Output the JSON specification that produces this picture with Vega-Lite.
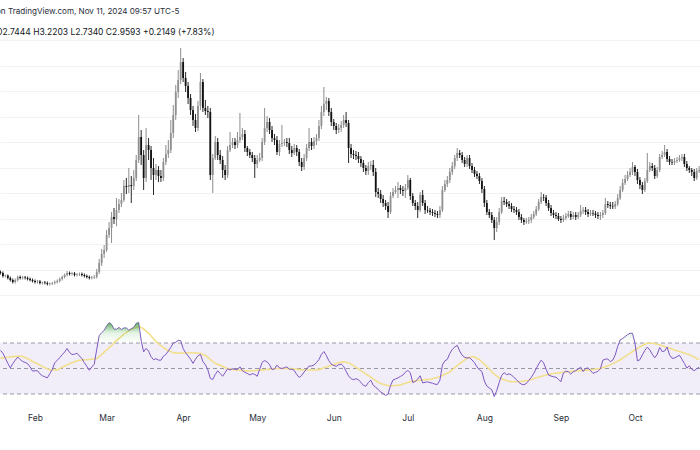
{
"$schema":"https://vega.github.io/schema/vega-lite/v6.json",
"width":700,"height":450,"autosize":"none","padding":0,"background":"white",
"config":{"view":{"stroke":null},"font":"Inter"},
"title":{"text":"on TradingView.com, Nov 11, 2024 09:57 UTC-5","subtitle":"O2.7444  H3.2203  L2.7340  C2.9593  +0.2149 (+7.83%)","orient":"top","anchor":"start","frame":"group","offset":0,"dx":-4,"dy":40,"font":"Inter","fontSize":8.1,"fontWeight":"normal","color":"#2a2e39","subtitleFont":"Inter","subtitleFontSize":8.5,"subtitleColor":"#131722","subtitlePadding":11,"baseline":"middle"},
"datasets":{
"levels":[{"v":70},{"v":50},{"v":30}],
"band":[{"lo":30,"hi":70}],
"p":[
{"d":"2024-01-18","o":0.451,"h":0.480,"l":0.402,"c":0.431,"r":64.2,"m":58.0},
{"d":"2024-01-19","o":0.431,"h":0.461,"l":0.343,"c":0.373,"r":62,"m":58.3},
{"d":"2024-01-20","o":0.373,"h":0.402,"l":0.343,"c":0.382,"r":58,"m":58.5},
{"d":"2024-01-21","o":0.382,"h":0.402,"l":0.304,"c":0.333,"r":54,"m":58.8},
{"d":"2024-01-22","o":0.333,"h":0.363,"l":0.265,"c":0.294,"r":50.5,"m":59.0},
{"d":"2024-01-23","o":0.294,"h":0.324,"l":0.225,"c":0.255,"r":53.8,"m":59.3},
{"d":"2024-01-24","o":0.255,"h":0.324,"l":0.225,"c":0.294,"r":56.5,"m":59.5},
{"d":"2024-01-25","o":0.294,"h":0.382,"l":0.265,"c":0.353,"r":59,"m":59.6},
{"d":"2024-01-26","o":0.353,"h":0.382,"l":0.304,"c":0.333,"r":57,"m":59.8},
{"d":"2024-01-27","o":0.333,"h":0.373,"l":0.304,"c":0.343,"r":55.5,"m":59.4},
{"d":"2024-01-28","o":0.343,"h":0.373,"l":0.304,"c":0.333,"r":54.8,"m":58.5},
{"d":"2024-01-29","o":0.333,"h":0.363,"l":0.284,"c":0.314,"r":53.8,"m":57.7},
{"d":"2024-01-30","o":0.314,"h":0.343,"l":0.265,"c":0.294,"r":51.3,"m":56.7},
{"d":"2024-01-31","o":0.294,"h":0.324,"l":0.245,"c":0.275,"r":48,"m":55.5},
{"d":"2024-02-01","o":0.275,"h":0.304,"l":0.225,"c":0.255,"r":48.2,"m":54.5},
{"d":"2024-02-02","o":0.255,"h":0.294,"l":0.225,"c":0.265,"r":48.3,"m":53.6},
{"d":"2024-02-03","o":0.265,"h":0.294,"l":0.206,"c":0.235,"r":45.8,"m":52.6},
{"d":"2024-02-04","o":0.235,"h":0.265,"l":0.206,"c":0.245,"r":44.3,"m":51.6},
{"d":"2024-02-05","o":0.245,"h":0.275,"l":0.206,"c":0.235,"r":43.5,"m":50.6},
{"d":"2024-02-06","o":0.235,"h":0.265,"l":0.186,"c":0.216,"r":42.6,"m":49.8},
{"d":"2024-02-07","o":0.216,"h":0.245,"l":0.186,"c":0.225,"r":46,"m":48.9},
{"d":"2024-02-08","o":0.225,"h":0.255,"l":0.196,"c":0.235,"r":49.2,"m":48.8},
{"d":"2024-02-09","o":0.235,"h":0.284,"l":0.206,"c":0.255,"r":54.5,"m":48.8},
{"d":"2024-02-10","o":0.255,"h":0.304,"l":0.225,"c":0.275,"r":56.4,"m":48.9},
{"d":"2024-02-11","o":0.275,"h":0.343,"l":0.245,"c":0.314,"r":58.5,"m":50.0},
{"d":"2024-02-12","o":0.314,"h":0.382,"l":0.284,"c":0.353,"r":60.8,"m":51.0},
{"d":"2024-02-13","o":0.353,"h":0.422,"l":0.324,"c":0.392,"r":62.9,"m":52.0},
{"d":"2024-02-14","o":0.392,"h":0.471,"l":0.363,"c":0.431,"r":65.7,"m":52.9},
{"d":"2024-02-15","o":0.431,"h":0.461,"l":0.382,"c":0.412,"r":62.5,"m":53.8},
{"d":"2024-02-16","o":0.412,"h":0.451,"l":0.382,"c":0.422,"r":61,"m":54.5},
{"d":"2024-02-17","o":0.422,"h":0.451,"l":0.363,"c":0.392,"r":61.2,"m":55.2},
{"d":"2024-02-18","o":0.392,"h":0.431,"l":0.363,"c":0.402,"r":62,"m":55.9},
{"d":"2024-02-19","o":0.402,"h":0.441,"l":0.373,"c":0.412,"r":59.8,"m":56.5},
{"d":"2024-02-20","o":0.412,"h":0.441,"l":0.363,"c":0.392,"r":57.7,"m":56.7},
{"d":"2024-02-21","o":0.392,"h":0.422,"l":0.343,"c":0.373,"r":54.5,"m":56.8},
{"d":"2024-02-22","o":0.373,"h":0.402,"l":0.324,"c":0.353,"r":51.7,"m":56.9},
{"d":"2024-02-23","o":0.353,"h":0.382,"l":0.304,"c":0.333,"r":48.6,"m":57.0},
{"d":"2024-02-24","o":0.333,"h":0.373,"l":0.304,"c":0.343,"r":51.2,"m":57.3},
{"d":"2024-02-25","o":0.343,"h":0.392,"l":0.314,"c":0.353,"r":53.4,"m":57.6},
{"d":"2024-02-26","o":0.353,"h":0.510,"l":0.324,"c":0.451,"r":65,"m":57.9},
{"d":"2024-02-27","o":0.451,"h":0.706,"l":0.412,"c":0.627,"r":75.7,"m":59.3},
{"d":"2024-02-28","o":0.627,"h":0.902,"l":0.569,"c":0.804,"r":78.1,"m":61.1},
{"d":"2024-02-29","o":0.804,"h":0.980,"l":0.725,"c":0.882,"r":79.9,"m":62.8},
{"d":"2024-03-01","o":0.882,"h":1.275,"l":0.843,"c":1.176,"r":83.4,"m":64.6},
{"d":"2024-03-02","o":1.176,"h":1.431,"l":1.118,"c":1.314,"r":85.9,"m":66.4},
{"d":"2024-03-03","o":1.314,"h":1.627,"l":1.020,"c":1.529,"r":84.7,"m":68.0},
{"d":"2024-03-04","o":1.529,"h":1.706,"l":1.392,"c":1.490,"r":80.9,"m":70.1},
{"d":"2024-03-05","o":1.490,"h":1.902,"l":1.353,"c":1.667,"r":80.8,"m":72.0},
{"d":"2024-03-06","o":1.667,"h":1.882,"l":1.608,"c":1.784,"r":82.2,"m":73.4},
{"d":"2024-03-07","o":1.784,"h":2.000,"l":1.725,"c":1.863,"r":80.6,"m":75.1},
{"d":"2024-03-08","o":1.863,"h":2.255,"l":1.824,"c":2.137,"r":81.8,"m":76.9},
{"d":"2024-03-09","o":2.137,"h":2.294,"l":1.980,"c":2.118,"r":81.8,"m":78.2},
{"d":"2024-03-10","o":2.118,"h":2.490,"l":2.000,"c":2.157,"r":80,"m":79.5},
{"d":"2024-03-11","o":2.157,"h":2.333,"l":1.804,"c":2.137,"r":81.2,"m":80.7},
{"d":"2024-03-12","o":2.137,"h":2.451,"l":2.059,"c":2.294,"r":82.3,"m":81.6},
{"d":"2024-03-13","o":2.294,"h":2.745,"l":2.235,"c":2.647,"r":85.4,"m":82.1},
{"d":"2024-03-14","o":2.647,"h":3.529,"l":2.588,"c":3.098,"r":86,"m":82.6},
{"d":"2024-03-15","o":3.098,"h":3.235,"l":2.549,"c":2.745,"r":72,"m":82.1},
{"d":"2024-03-16","o":2.745,"h":2.843,"l":2.059,"c":2.294,"r":63,"m":80.8},
{"d":"2024-03-17","o":2.294,"h":3.275,"l":2.216,"c":2.941,"r":65.8,"m":79.4},
{"d":"2024-03-18","o":2.941,"h":3.078,"l":2.647,"c":2.843,"r":63.6,"m":77.7},
{"d":"2024-03-19","o":2.843,"h":2.922,"l":2.255,"c":2.490,"r":59.3,"m":75.5},
{"d":"2024-03-20","o":2.490,"h":2.686,"l":1.961,"c":2.353,"r":56.9,"m":73.3},
{"d":"2024-03-21","o":2.353,"h":2.569,"l":2.255,"c":2.451,"r":57.7,"m":71.1},
{"d":"2024-03-22","o":2.451,"h":2.529,"l":2.216,"c":2.333,"r":56.6,"m":69.6},
{"d":"2024-03-23","o":2.333,"h":2.451,"l":2.216,"c":2.294,"r":56.5,"m":67.9},
{"d":"2024-03-24","o":2.294,"h":2.686,"l":2.235,"c":2.608,"r":59.6,"m":66.6},
{"d":"2024-03-25","o":2.608,"h":2.941,"l":2.549,"c":2.765,"r":61,"m":65.1},
{"d":"2024-03-26","o":2.765,"h":3.039,"l":2.686,"c":2.843,"r":63.7,"m":64.0},
{"d":"2024-03-27","o":2.843,"h":3.431,"l":2.784,"c":3.176,"r":66.6,"m":63.3},
{"d":"2024-03-28","o":3.176,"h":3.725,"l":3.078,"c":3.529,"r":69.9,"m":62.4},
{"d":"2024-03-29","o":3.529,"h":4.118,"l":3.431,"c":3.980,"r":70.6,"m":62.2},
{"d":"2024-03-30","o":3.980,"h":4.412,"l":3.863,"c":4.216,"r":72,"m":62.1},
{"d":"2024-03-31","o":4.216,"h":4.843,"l":4.137,"c":4.569,"r":71.9,"m":62.0},
{"d":"2024-04-01","o":4.569,"h":4.647,"l":4.176,"c":4.255,"r":65.6,"m":62.1},
{"d":"2024-04-02","o":4.255,"h":4.373,"l":3.980,"c":4.098,"r":62.4,"m":62.2},
{"d":"2024-04-03","o":4.098,"h":4.176,"l":3.745,"c":3.863,"r":59.9,"m":62.3},
{"d":"2024-04-04","o":3.863,"h":3.941,"l":3.529,"c":3.627,"r":57.3,"m":62.4},
{"d":"2024-04-05","o":3.627,"h":3.706,"l":3.314,"c":3.431,"r":54,"m":62.3},
{"d":"2024-04-06","o":3.431,"h":3.549,"l":3.196,"c":3.275,"r":57.3,"m":62.1},
{"d":"2024-04-07","o":3.275,"h":3.804,"l":3.216,"c":3.706,"r":60,"m":62.0},
{"d":"2024-04-08","o":3.706,"h":4.353,"l":3.627,"c":4.176,"r":61.1,"m":61.9},
{"d":"2024-04-09","o":4.176,"h":4.235,"l":3.588,"c":3.667,"r":55.5,"m":60.8},
{"d":"2024-04-10","o":3.667,"h":3.824,"l":3.529,"c":3.608,"r":53,"m":60.2},
{"d":"2024-04-11","o":3.608,"h":3.706,"l":3.471,"c":3.588,"r":49,"m":58.8},
{"d":"2024-04-12","o":3.588,"h":3.667,"l":2.255,"c":2.353,"r":42.2,"m":57.1},
{"d":"2024-04-13","o":2.353,"h":2.765,"l":2.000,"c":2.686,"r":41.4,"m":55.4},
{"d":"2024-04-14","o":2.686,"h":3.118,"l":2.647,"c":3.000,"r":45.3,"m":54.2},
{"d":"2024-04-15","o":3.000,"h":3.078,"l":2.647,"c":2.745,"r":48.2,"m":53.1},
{"d":"2024-04-16","o":2.745,"h":2.843,"l":2.569,"c":2.647,"r":46.1,"m":52.6},
{"d":"2024-04-17","o":2.647,"h":2.725,"l":2.294,"c":2.451,"r":43.9,"m":51.6},
{"d":"2024-04-18","o":2.451,"h":2.549,"l":2.255,"c":2.353,"r":46.8,"m":50.7},
{"d":"2024-04-19","o":2.353,"h":2.922,"l":2.294,"c":2.843,"r":49.8,"m":49.9},
{"d":"2024-04-20","o":2.843,"h":3.196,"l":2.804,"c":2.941,"r":48.8,"m":49.6},
{"d":"2024-04-21","o":2.941,"h":3.078,"l":2.882,"c":3.000,"r":49.8,"m":49.3},
{"d":"2024-04-22","o":3.000,"h":3.078,"l":2.863,"c":2.941,"r":49.4,"m":49.0},
{"d":"2024-04-23","o":2.941,"h":3.196,"l":2.882,"c":3.039,"r":49.2,"m":48.8},
{"d":"2024-04-24","o":3.039,"h":3.569,"l":2.980,"c":3.098,"r":51.3,"m":48.6},
{"d":"2024-04-25","o":3.098,"h":3.275,"l":3.039,"c":3.157,"r":48.3,"m":48.4},
{"d":"2024-04-26","o":3.157,"h":3.235,"l":2.804,"c":2.882,"r":47,"m":48.2},
{"d":"2024-04-27","o":2.882,"h":2.922,"l":2.725,"c":2.804,"r":46.1,"m":48.1},
{"d":"2024-04-28","o":2.804,"h":2.863,"l":2.686,"c":2.745,"r":45,"m":48.0},
{"d":"2024-04-29","o":2.745,"h":2.804,"l":2.608,"c":2.686,"r":45.9,"m":48.2},
{"d":"2024-04-30","o":2.686,"h":2.745,"l":2.294,"c":2.569,"r":45.4,"m":48.3},
{"d":"2024-05-01","o":2.569,"h":2.745,"l":2.490,"c":2.647,"r":43.9,"m":48.5},
{"d":"2024-05-02","o":2.647,"h":2.784,"l":2.608,"c":2.686,"r":49.4,"m":48.7},
{"d":"2024-05-03","o":2.686,"h":3.078,"l":2.627,"c":3.000,"r":54.8,"m":48.8},
{"d":"2024-05-04","o":3.000,"h":3.667,"l":2.941,"c":3.275,"r":56.2,"m":49.0},
{"d":"2024-05-05","o":3.275,"h":3.510,"l":3.196,"c":3.392,"r":55.2,"m":49.2},
{"d":"2024-05-06","o":3.392,"h":3.471,"l":3.157,"c":3.235,"r":53,"m":49.4},
{"d":"2024-05-07","o":3.235,"h":3.314,"l":3.000,"c":3.078,"r":49.2,"m":49.6},
{"d":"2024-05-08","o":3.078,"h":3.157,"l":2.941,"c":3.039,"r":49.6,"m":49.8},
{"d":"2024-05-09","o":3.039,"h":3.118,"l":2.745,"c":2.804,"r":52.7,"m":50.0},
{"d":"2024-05-10","o":2.804,"h":3.039,"l":2.725,"c":2.961,"r":50.5,"m":50.0},
{"d":"2024-05-11","o":2.961,"h":3.333,"l":2.902,"c":2.980,"r":50,"m":50.0},
{"d":"2024-05-12","o":2.980,"h":3.059,"l":2.922,"c":3.000,"r":50.6,"m":50.0},
{"d":"2024-05-13","o":3.000,"h":3.078,"l":2.902,"c":2.980,"r":51.3,"m":50.0},
{"d":"2024-05-14","o":2.980,"h":3.078,"l":2.765,"c":2.843,"r":49.4,"m":50.0},
{"d":"2024-05-15","o":2.843,"h":2.922,"l":2.706,"c":2.784,"r":49.4,"m":49.8},
{"d":"2024-05-16","o":2.784,"h":2.961,"l":2.745,"c":2.882,"r":48.4,"m":49.6},
{"d":"2024-05-17","o":2.882,"h":2.941,"l":2.725,"c":2.804,"r":45.3,"m":49.4},
{"d":"2024-05-18","o":2.804,"h":2.863,"l":2.529,"c":2.608,"r":43,"m":49.2},
{"d":"2024-05-19","o":2.608,"h":2.686,"l":2.431,"c":2.510,"r":44.5,"m":48.9},
{"d":"2024-05-20","o":2.510,"h":2.765,"l":2.451,"c":2.686,"r":47.3,"m":48.8},
{"d":"2024-05-21","o":2.686,"h":2.961,"l":2.627,"c":2.882,"r":49.6,"m":48.8},
{"d":"2024-05-22","o":2.882,"h":3.275,"l":2.824,"c":3.000,"r":51.9,"m":48.8},
{"d":"2024-05-23","o":3.000,"h":3.078,"l":2.843,"c":2.922,"r":52,"m":48.8},
{"d":"2024-05-24","o":2.922,"h":3.098,"l":2.863,"c":3.020,"r":52.7,"m":48.8},
{"d":"2024-05-25","o":3.020,"h":3.157,"l":2.941,"c":3.078,"r":54.7,"m":48.8},
{"d":"2024-05-26","o":3.078,"h":3.431,"l":3.020,"c":3.314,"r":57,"m":49.3},
{"d":"2024-05-27","o":3.314,"h":3.706,"l":3.255,"c":3.588,"r":61.1,"m":49.9},
{"d":"2024-05-28","o":3.588,"h":4.078,"l":3.510,"c":3.745,"r":63.3,"m":50.6},
{"d":"2024-05-29","o":3.745,"h":3.882,"l":3.627,"c":3.804,"r":60.2,"m":51.2},
{"d":"2024-05-30","o":3.804,"h":3.863,"l":3.510,"c":3.588,"r":56.1,"m":51.8},
{"d":"2024-05-31","o":3.588,"h":3.667,"l":3.314,"c":3.392,"r":53.4,"m":52.5},
{"d":"2024-06-01","o":3.392,"h":3.451,"l":3.235,"c":3.314,"r":52.4,"m":53.1},
{"d":"2024-06-02","o":3.314,"h":3.373,"l":3.157,"c":3.235,"r":51.7,"m":53.8},
{"d":"2024-06-03","o":3.235,"h":3.353,"l":3.176,"c":3.275,"r":52.9,"m":54.4},
{"d":"2024-06-04","o":3.275,"h":3.412,"l":3.196,"c":3.333,"r":53.5,"m":55.0},
{"d":"2024-06-05","o":3.333,"h":3.529,"l":3.275,"c":3.431,"r":51.7,"m":55.2},
{"d":"2024-06-06","o":3.431,"h":3.588,"l":3.294,"c":3.373,"r":47.8,"m":54.9},
{"d":"2024-06-07","o":3.373,"h":3.431,"l":2.588,"c":2.882,"r":44.2,"m":54.3},
{"d":"2024-06-08","o":2.882,"h":2.961,"l":2.686,"c":2.765,"r":42,"m":53.5},
{"d":"2024-06-09","o":2.765,"h":2.843,"l":2.667,"c":2.745,"r":41.2,"m":52.2},
{"d":"2024-06-10","o":2.745,"h":2.824,"l":2.647,"c":2.725,"r":42,"m":50.9},
{"d":"2024-06-11","o":2.725,"h":2.804,"l":2.588,"c":2.667,"r":41.1,"m":49.6},
{"d":"2024-06-12","o":2.667,"h":2.725,"l":2.510,"c":2.588,"r":39.2,"m":48.3},
{"d":"2024-06-13","o":2.588,"h":2.647,"l":2.412,"c":2.490,"r":36.8,"m":47.0},
{"d":"2024-06-14","o":2.490,"h":2.549,"l":2.353,"c":2.431,"r":36.1,"m":45.7},
{"d":"2024-06-15","o":2.431,"h":2.608,"l":2.353,"c":2.529,"r":39,"m":44.5},
{"d":"2024-06-16","o":2.529,"h":2.627,"l":2.451,"c":2.549,"r":40.9,"m":43.2},
{"d":"2024-06-17","o":2.549,"h":2.647,"l":2.333,"c":2.412,"r":36.8,"m":41.9},
{"d":"2024-06-18","o":2.412,"h":2.490,"l":1.922,"c":2.020,"r":35.3,"m":40.6},
{"d":"2024-06-19","o":2.020,"h":2.098,"l":1.902,"c":1.980,"r":33.6,"m":39.3},
{"d":"2024-06-20","o":1.980,"h":2.059,"l":1.804,"c":1.882,"r":31.5,"m":38.3},
{"d":"2024-06-21","o":1.882,"h":1.961,"l":1.725,"c":1.804,"r":30.4,"m":37.7},
{"d":"2024-06-22","o":1.804,"h":1.863,"l":1.667,"c":1.745,"r":28.8,"m":37.1},
{"d":"2024-06-23","o":1.745,"h":1.824,"l":1.510,"c":1.627,"r":30,"m":36.7},
{"d":"2024-06-24","o":1.627,"h":2.020,"l":1.588,"c":1.941,"r":36.6,"m":36.3},
{"d":"2024-06-25","o":1.941,"h":2.098,"l":1.902,"c":2.020,"r":41,"m":36.5},
{"d":"2024-06-26","o":2.020,"h":2.137,"l":1.980,"c":2.059,"r":41.8,"m":36.7},
{"d":"2024-06-27","o":2.059,"h":2.216,"l":1.902,"c":2.098,"r":42.6,"m":36.9},
{"d":"2024-06-28","o":2.098,"h":2.157,"l":1.980,"c":2.059,"r":43.8,"m":37.1},
{"d":"2024-06-29","o":2.059,"h":2.137,"l":1.941,"c":2.039,"r":44.8,"m":37.8},
{"d":"2024-06-30","o":2.039,"h":2.176,"l":1.902,"c":2.098,"r":47.1,"m":38.4},
{"d":"2024-07-01","o":2.098,"h":2.353,"l":2.059,"c":2.255,"r":48.5,"m":39.0},
{"d":"2024-07-02","o":2.255,"h":2.294,"l":1.863,"c":1.941,"r":46.6,"m":39.6},
{"d":"2024-07-03","o":1.941,"h":2.000,"l":1.745,"c":1.804,"r":39,"m":40.0},
{"d":"2024-07-04","o":1.804,"h":1.863,"l":1.667,"c":1.745,"r":39.8,"m":40.3},
{"d":"2024-07-05","o":1.745,"h":1.824,"l":1.510,"c":1.667,"r":41.7,"m":40.7},
{"d":"2024-07-06","o":1.667,"h":2.020,"l":1.627,"c":1.961,"r":44.3,"m":41.0},
{"d":"2024-07-07","o":1.961,"h":2.059,"l":1.745,"c":1.804,"r":38.7,"m":41.1},
{"d":"2024-07-08","o":1.804,"h":1.863,"l":1.588,"c":1.667,"r":39.2,"m":41.3},
{"d":"2024-07-09","o":1.667,"h":1.745,"l":1.608,"c":1.657,"r":39.5,"m":41.4},
{"d":"2024-07-10","o":1.657,"h":1.706,"l":1.569,"c":1.627,"r":38.9,"m":41.5},
{"d":"2024-07-11","o":1.627,"h":1.686,"l":1.549,"c":1.608,"r":38.5,"m":42.0},
{"d":"2024-07-12","o":1.608,"h":1.667,"l":1.529,"c":1.588,"r":37.7,"m":42.5},
{"d":"2024-07-13","o":1.588,"h":1.647,"l":1.510,"c":1.569,"r":37.5,"m":43.0},
{"d":"2024-07-14","o":1.569,"h":1.745,"l":1.510,"c":1.667,"r":40.9,"m":43.6},
{"d":"2024-07-15","o":1.667,"h":2.137,"l":1.627,"c":2.059,"r":52.8,"m":44.5},
{"d":"2024-07-16","o":2.059,"h":2.255,"l":2.020,"c":2.176,"r":56,"m":45.5},
{"d":"2024-07-17","o":2.176,"h":2.333,"l":2.118,"c":2.255,"r":57.2,"m":46.4},
{"d":"2024-07-18","o":2.255,"h":2.490,"l":2.196,"c":2.412,"r":61.8,"m":47.4},
{"d":"2024-07-19","o":2.412,"h":2.608,"l":2.353,"c":2.529,"r":65,"m":49.0},
{"d":"2024-07-20","o":2.529,"h":2.745,"l":2.471,"c":2.686,"r":66.8,"m":50.6},
{"d":"2024-07-21","o":2.686,"h":2.882,"l":2.627,"c":2.784,"r":68.2,"m":52.2},
{"d":"2024-07-22","o":2.784,"h":2.843,"l":2.686,"c":2.745,"r":63.7,"m":53.8},
{"d":"2024-07-23","o":2.745,"h":2.804,"l":2.588,"c":2.647,"r":60.4,"m":55.2},
{"d":"2024-07-24","o":2.647,"h":2.706,"l":2.510,"c":2.569,"r":58.8,"m":56.6},
{"d":"2024-07-25","o":2.569,"h":2.745,"l":2.510,"c":2.686,"r":58.2,"m":58.0},
{"d":"2024-07-26","o":2.686,"h":2.745,"l":2.471,"c":2.529,"r":58.5,"m":58.7},
{"d":"2024-07-27","o":2.529,"h":2.588,"l":2.392,"c":2.451,"r":56.7,"m":59.2},
{"d":"2024-07-28","o":2.451,"h":2.510,"l":2.314,"c":2.373,"r":54.5,"m":59.1},
{"d":"2024-07-29","o":2.373,"h":2.431,"l":2.275,"c":2.333,"r":51.3,"m":57.8},
{"d":"2024-07-30","o":2.333,"h":2.392,"l":2.176,"c":2.235,"r":49,"m":56.9},
{"d":"2024-07-31","o":2.235,"h":2.294,"l":2.000,"c":2.078,"r":47.6,"m":55.3},
{"d":"2024-08-01","o":2.078,"h":2.137,"l":1.725,"c":1.804,"r":40.2,"m":53.4},
{"d":"2024-08-02","o":1.804,"h":1.863,"l":1.569,"c":1.627,"r":36.2,"m":51.5},
{"d":"2024-08-03","o":1.627,"h":1.686,"l":1.510,"c":1.569,"r":34.7,"m":49.6},
{"d":"2024-08-04","o":1.569,"h":1.627,"l":1.412,"c":1.471,"r":33.3,"m":47.4},
{"d":"2024-08-05","o":1.471,"h":1.529,"l":1.078,"c":1.314,"r":28,"m":45.6},
{"d":"2024-08-06","o":1.314,"h":1.529,"l":1.235,"c":1.431,"r":32.6,"m":44.1},
{"d":"2024-08-07","o":1.431,"h":1.706,"l":1.373,"c":1.627,"r":39,"m":42.6},
{"d":"2024-08-08","o":1.627,"h":1.922,"l":1.588,"c":1.843,"r":44.5,"m":41.9},
{"d":"2024-08-09","o":1.843,"h":1.922,"l":1.765,"c":1.824,"r":46.8,"m":41.2},
{"d":"2024-08-10","o":1.824,"h":1.882,"l":1.725,"c":1.784,"r":45.2,"m":40.6},
{"d":"2024-08-11","o":1.784,"h":1.843,"l":1.686,"c":1.745,"r":45.8,"m":39.9},
{"d":"2024-08-12","o":1.745,"h":1.804,"l":1.627,"c":1.686,"r":44.9,"m":39.6},
{"d":"2024-08-13","o":1.686,"h":1.745,"l":1.608,"c":1.667,"r":42.9,"m":39.6},
{"d":"2024-08-14","o":1.667,"h":1.725,"l":1.569,"c":1.627,"r":41.3,"m":39.6},
{"d":"2024-08-15","o":1.627,"h":1.686,"l":1.471,"c":1.529,"r":39.1,"m":39.6},
{"d":"2024-08-16","o":1.529,"h":1.588,"l":1.412,"c":1.471,"r":37.7,"m":39.8},
{"d":"2024-08-17","o":1.471,"h":1.510,"l":1.373,"c":1.431,"r":37.3,"m":40.1},
{"d":"2024-08-18","o":1.431,"h":1.510,"l":1.392,"c":1.451,"r":38.2,"m":40.4},
{"d":"2024-08-19","o":1.451,"h":1.529,"l":1.392,"c":1.471,"r":40.6,"m":40.8},
{"d":"2024-08-20","o":1.471,"h":1.588,"l":1.412,"c":1.529,"r":43.1,"m":41.3},
{"d":"2024-08-21","o":1.529,"h":1.647,"l":1.490,"c":1.588,"r":46.1,"m":41.9},
{"d":"2024-08-22","o":1.588,"h":1.745,"l":1.549,"c":1.686,"r":49.9,"m":42.6},
{"d":"2024-08-23","o":1.686,"h":1.882,"l":1.647,"c":1.824,"r":53.6,"m":43.3},
{"d":"2024-08-24","o":1.824,"h":2.020,"l":1.784,"c":1.922,"r":56.5,"m":43.8},
{"d":"2024-08-25","o":1.922,"h":1.980,"l":1.843,"c":1.912,"r":54.4,"m":44.4},
{"d":"2024-08-26","o":1.912,"h":1.961,"l":1.745,"c":1.804,"r":49.4,"m":44.9},
{"d":"2024-08-27","o":1.804,"h":1.863,"l":1.647,"c":1.706,"r":44.8,"m":45.4},
{"d":"2024-08-28","o":1.706,"h":1.765,"l":1.549,"c":1.608,"r":44.1,"m":45.8},
{"d":"2024-08-29","o":1.608,"h":1.667,"l":1.510,"c":1.569,"r":43.5,"m":46.1},
{"d":"2024-08-30","o":1.569,"h":1.627,"l":1.490,"c":1.549,"r":43.2,"m":46.3},
{"d":"2024-08-31","o":1.549,"h":1.608,"l":1.451,"c":1.490,"r":41.5,"m":46.5},
{"d":"2024-09-01","o":1.490,"h":1.549,"l":1.412,"c":1.471,"r":39.6,"m":46.8},
{"d":"2024-09-02","o":1.471,"h":1.569,"l":1.431,"c":1.510,"r":46.4,"m":47.0},
{"d":"2024-09-03","o":1.510,"h":1.608,"l":1.471,"c":1.549,"r":48,"m":47.2},
{"d":"2024-09-04","o":1.549,"h":1.647,"l":1.510,"c":1.588,"r":47.5,"m":47.4},
{"d":"2024-09-05","o":1.588,"h":1.647,"l":1.471,"c":1.529,"r":45.6,"m":47.6},
{"d":"2024-09-06","o":1.529,"h":1.627,"l":1.490,"c":1.569,"r":47.5,"m":47.8},
{"d":"2024-09-07","o":1.569,"h":1.627,"l":1.471,"c":1.529,"r":48.3,"m":48.0},
{"d":"2024-09-08","o":1.529,"h":1.627,"l":1.490,"c":1.569,"r":49.6,"m":48.2},
{"d":"2024-09-09","o":1.569,"h":1.765,"l":1.529,"c":1.647,"r":51,"m":48.4},
{"d":"2024-09-10","o":1.647,"h":1.725,"l":1.588,"c":1.667,"r":47.6,"m":48.5},
{"d":"2024-09-11","o":1.667,"h":1.725,"l":1.569,"c":1.627,"r":50,"m":48.6},
{"d":"2024-09-12","o":1.627,"h":1.686,"l":1.529,"c":1.588,"r":50.5,"m":48.7},
{"d":"2024-09-13","o":1.588,"h":1.667,"l":1.549,"c":1.608,"r":48.4,"m":48.9},
{"d":"2024-09-14","o":1.608,"h":1.667,"l":1.549,"c":1.598,"r":46.2,"m":49.2},
{"d":"2024-09-15","o":1.598,"h":1.647,"l":1.510,"c":1.569,"r":47,"m":49.5},
{"d":"2024-09-16","o":1.569,"h":1.627,"l":1.490,"c":1.549,"r":47.8,"m":49.8},
{"d":"2024-09-17","o":1.549,"h":1.627,"l":1.471,"c":1.569,"r":49.8,"m":50.1},
{"d":"2024-09-18","o":1.569,"h":1.667,"l":1.510,"c":1.608,"r":56.5,"m":50.8},
{"d":"2024-09-19","o":1.608,"h":1.902,"l":1.569,"c":1.784,"r":57.3,"m":51.4},
{"d":"2024-09-20","o":1.784,"h":1.843,"l":1.706,"c":1.765,"r":57.5,"m":52.1},
{"d":"2024-09-21","o":1.765,"h":1.824,"l":1.686,"c":1.745,"r":55.4,"m":52.8},
{"d":"2024-09-22","o":1.745,"h":1.824,"l":1.686,"c":1.735,"r":56.6,"m":53.8},
{"d":"2024-09-23","o":1.735,"h":1.843,"l":1.686,"c":1.784,"r":60.6,"m":54.8},
{"d":"2024-09-24","o":1.784,"h":1.980,"l":1.745,"c":1.902,"r":67.3,"m":55.8},
{"d":"2024-09-25","o":1.902,"h":2.137,"l":1.863,"c":2.059,"r":72.4,"m":56.8},
{"d":"2024-09-26","o":2.059,"h":2.275,"l":2.020,"c":2.196,"r":73.5,"m":58.1},
{"d":"2024-09-27","o":2.196,"h":2.353,"l":2.157,"c":2.275,"r":75,"m":59.4},
{"d":"2024-09-28","o":2.275,"h":2.431,"l":2.235,"c":2.353,"r":76.6,"m":60.7},
{"d":"2024-09-29","o":2.353,"h":2.490,"l":2.314,"c":2.412,"r":77.6,"m":62.0},
{"d":"2024-09-30","o":2.412,"h":2.608,"l":2.353,"c":2.510,"r":77.6,"m":63.3},
{"d":"2024-10-01","o":2.510,"h":2.549,"l":2.333,"c":2.412,"r":69.8,"m":64.5},
{"d":"2024-10-02","o":2.412,"h":2.471,"l":2.176,"c":2.255,"r":56,"m":65.7},
{"d":"2024-10-03","o":2.255,"h":2.314,"l":2.078,"c":2.157,"r":56.9,"m":67.0},
{"d":"2024-10-04","o":2.157,"h":2.216,"l":1.980,"c":2.059,"r":60.7,"m":68.0},
{"d":"2024-10-05","o":2.059,"h":2.294,"l":2.020,"c":2.235,"r":64.2,"m":68.9},
{"d":"2024-10-06","o":2.235,"h":2.784,"l":2.196,"c":2.451,"r":66.8,"m":69.8},
{"d":"2024-10-07","o":2.451,"h":2.608,"l":2.412,"c":2.529,"r":64.5,"m":69.8},
{"d":"2024-10-08","o":2.529,"h":2.588,"l":2.431,"c":2.490,"r":61.2,"m":69.8},
{"d":"2024-10-09","o":2.490,"h":2.549,"l":2.275,"c":2.333,"r":58.4,"m":69.5},
{"d":"2024-10-10","o":2.333,"h":2.510,"l":2.294,"c":2.451,"r":61,"m":69.0},
{"d":"2024-10-11","o":2.451,"h":2.765,"l":2.412,"c":2.706,"r":66.5,"m":68.5},
{"d":"2024-10-12","o":2.706,"h":2.824,"l":2.667,"c":2.745,"r":63.3,"m":67.9},
{"d":"2024-10-13","o":2.745,"h":2.941,"l":2.706,"c":2.804,"r":63.7,"m":67.2},
{"d":"2024-10-14","o":2.804,"h":2.863,"l":2.608,"c":2.667,"r":66.8,"m":66.6},
{"d":"2024-10-15","o":2.667,"h":2.725,"l":2.549,"c":2.608,"r":60.6,"m":65.9},
{"d":"2024-10-16","o":2.608,"h":2.667,"l":2.549,"c":2.598,"r":58,"m":65.3},
{"d":"2024-10-17","o":2.598,"h":2.686,"l":2.549,"c":2.627,"r":58.2,"m":64.6},
{"d":"2024-10-18","o":2.627,"h":2.706,"l":2.588,"c":2.647,"r":59.3,"m":64.0},
{"d":"2024-10-19","o":2.647,"h":2.745,"l":2.608,"c":2.686,"r":60.4,"m":63.4},
{"d":"2024-10-20","o":2.686,"h":2.765,"l":2.627,"c":2.706,"r":57.3,"m":62.7},
{"d":"2024-10-21","o":2.706,"h":2.765,"l":2.510,"c":2.569,"r":54,"m":62.1},
{"d":"2024-10-22","o":2.569,"h":2.627,"l":2.431,"c":2.490,"r":50.3,"m":61.4},
{"d":"2024-10-23","o":2.490,"h":2.529,"l":2.392,"c":2.451,"r":52.1,"m":60.8},
{"d":"2024-10-24","o":2.451,"h":2.490,"l":2.333,"c":2.412,"r":49.4,"m":59.9},
{"d":"2024-10-25","o":2.412,"h":2.471,"l":2.235,"c":2.294,"r":48.3,"m":59.0},
{"d":"2024-10-26","o":2.294,"h":2.490,"l":2.255,"c":2.431,"r":49.8,"m":57.9},
{"d":"2024-10-27","o":2.431,"h":2.529,"l":2.392,"c":2.451,"r":51,"m":57.0}
]},
"layer":[
{"data":{"name":"p"},
 "encoding":{"x":{"field":"d","type":"temporal","scale":{"type":"utc","padding":0,"domain":[{"year":2024,"month":1,"date":17,"hours":19,"minutes":47,"utc":true},{"year":2024,"month":10,"date":27,"hours":8,"utc":true}]},
   "axis":{"orient":"bottom","offset":-33,"domain":false,"ticks":false,"tickSize":0,"grid":false,"labelPadding":0,"labelBaseline":"middle","labelFlush":false,"labelOverlap":false,"labelExpr":"utcFormat(datum.value, '%b')","labelFont":"Inter","labelFontSize":8.5,"labelColor":"#2a2e39","title":null,
   "values":[{"year":2024,"month":2,"date":1,"utc":true},{"year":2024,"month":3,"date":1,"utc":true},{"year":2024,"month":4,"date":1,"utc":true},{"year":2024,"month":5,"date":1,"utc":true},{"year":2024,"month":6,"date":1,"utc":true},{"year":2024,"month":7,"date":1,"utc":true},{"year":2024,"month":8,"date":1,"utc":true},{"year":2024,"month":9,"date":1,"utc":true},{"year":2024,"month":10,"date":1,"utc":true}]}}},
 "layer":[
  {"mark":{"type":"rule","strokeWidth":0.9},
   "encoding":{"y":{"field":"l","type":"quantitative","scale":{"domain":[0,5],"range":[295,40],"nice":false,"zero":false},
     "axis":{"grid":true,"gridColor":"#f0f2f5","gridWidth":1,"labels":false,"ticks":false,"domain":false,"title":null,"values":[0,0.5,1,1.5,2,2.5,3,3.5,4,4.5,5]}},
    "y2":{"field":"h"},
    "color":{"condition":{"test":"datum.c >= datum.o","value":"#808080"},"value":"#111111"}}},
  {"mark":{"type":"bar","width":1.8},
   "encoding":{"y":{"field":"o","type":"quantitative"},"y2":{"field":"c"},
    "color":{"condition":{"test":"datum.c >= datum.o","value":"#8f8f8f"},"value":"#111111"}}}
 ]},
{"layer":[
  {"data":{"name":"band"},"mark":{"type":"rect","color":"#7E57C2","opacity":0.1},
   "encoding":{"y":{"field":"lo","type":"quantitative","scale":{"domain":[30,70],"range":[394,343],"nice":false,"zero":false},
     "axis":{"grid":true,"gridColor":"#e6e8ec","labels":false,"ticks":false,"domain":false,"title":null,"values":[5.69,95.88,324.9]}},
    "y2":{"field":"hi"}}},
  {"data":{"name":"levels"},"mark":{"type":"rule","color":"#787B86","strokeDash":[4,3],"strokeWidth":1,"opacity":0.75},
   "encoding":{"y":{"field":"v","type":"quantitative"}}},
  {"data":{"name":"p"},"mark":{"type":"line","color":"#F2DF8C","strokeWidth":1.6,"interpolate":"monotone"},
   "encoding":{"x":{"field":"d","type":"temporal"},"y":{"field":"m","type":"quantitative"}}},
  {"data":{"name":"p"},"mark":{"type":"line","color":"#7E57C2","strokeWidth":1},
   "encoding":{"x":{"field":"d","type":"temporal"},"y":{"field":"r","type":"quantitative"}}}
 ]},
{"data":{"name":"p"},
 "mark":{"type":"area","color":{"gradient":"linear","x1":0,"y1":0,"x2":0,"y2":1,"stops":[{"offset":0,"color":"rgba(56,142,60,0.8)"},{"offset":0.5,"color":"rgba(76,175,80,0.15)"},{"offset":1,"color":"rgba(76,175,80,0)"}]}},
 "encoding":{"x":{"field":"d","type":"temporal"},
  "y":{"field":"r","type":"quantitative","scale":{"domain":[70,100],"range":[343,304.75],"clamp":true,"nice":false,"zero":false},"axis":null},
  "y2":{"datum":70}}}
],
"resolve":{"scale":{"y":"independent"},"axis":{"y":"independent"}}
}
